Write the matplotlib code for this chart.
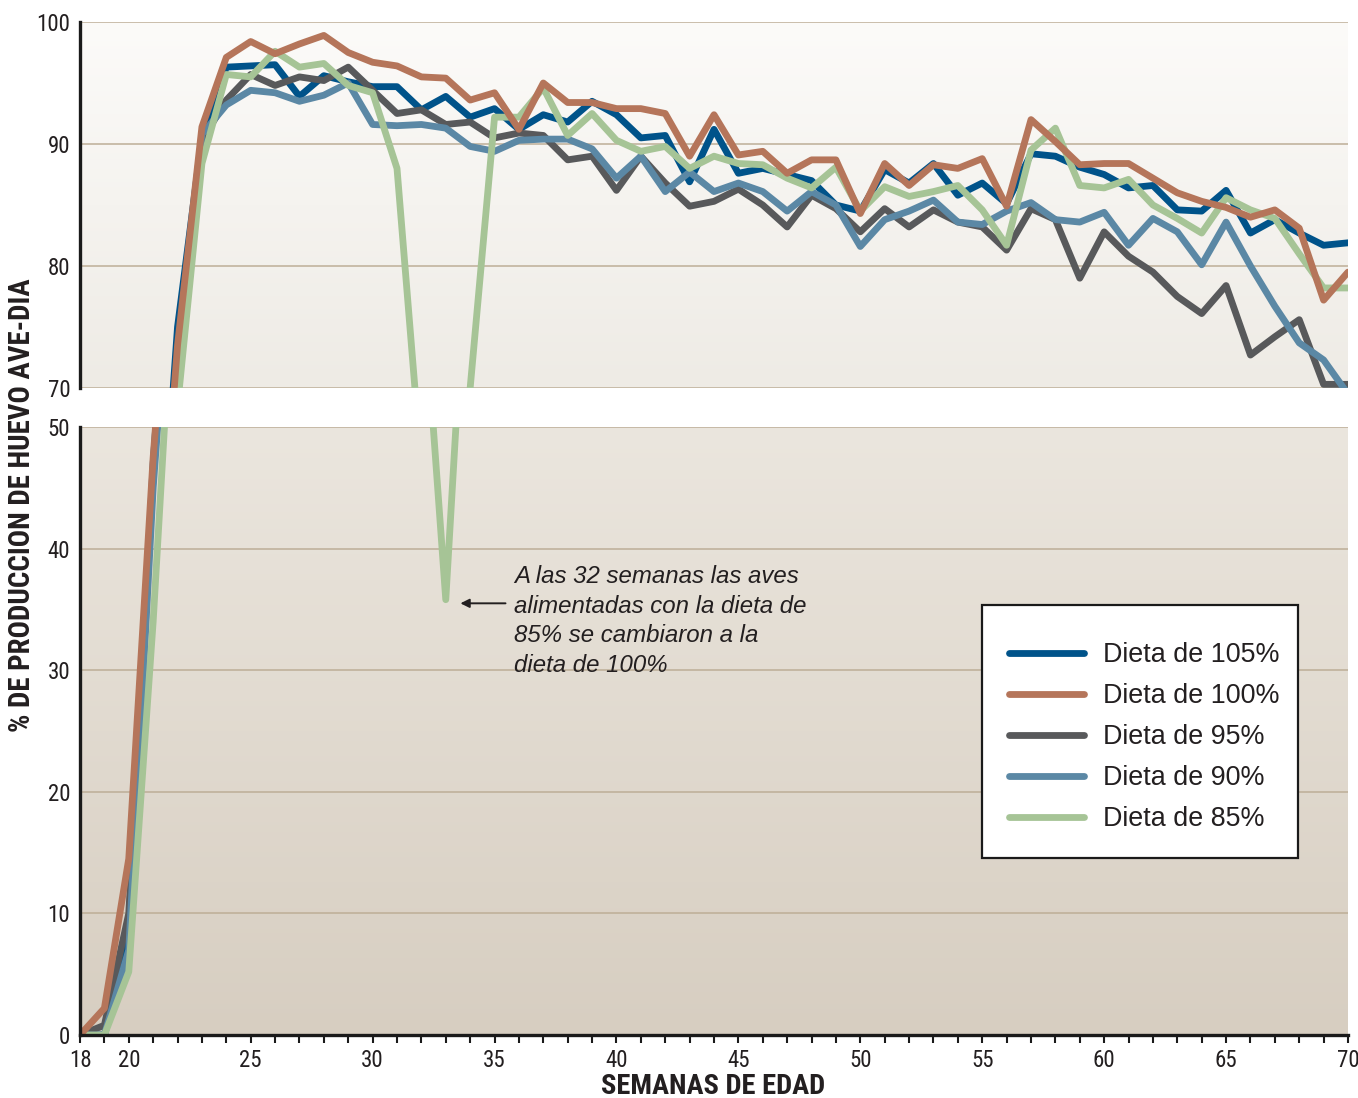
import numpy as np
import matplotlib
matplotlib.use("Agg")
import matplotlib.pyplot as plt
from matplotlib import font_manager as fm
from matplotlib.colors import LinearSegmentedColormap
from matplotlib.patches import Rectangle

# ---------------- data ----------------
weeks = list(range(18, 71))

dieta_105 = [0, 0, 8, 47, 75, 90.5, 96.3, 96.4, 96.5, 93.9, 95.6, 95.1, 94.7, 94.7, 92.8,
             93.9, 92.2, 92.9, 91.2, 92.4, 91.8, 93.5, 92.4, 90.5, 90.7, 86.9, 91.2, 87.6,
             88.0, 87.5, 87.0, 85.0, 84.5, 87.9, 86.8, 88.4, 85.8, 86.8, 85.1, 89.2, 89.0,
             88.1, 87.5, 86.4, 86.6, 84.6, 84.5, 86.2, 82.7, 83.8, 82.7, 81.7, 81.9]

dieta_100 = [0, 2.2, 14.5, 47.5, 73.5, 91.4, 97.1, 98.4, 97.4, 98.2, 98.9, 97.5, 96.7, 96.4,
             95.5, 95.4, 93.6, 94.2, 91.2, 95.0, 93.4, 93.4, 92.9, 92.9, 92.5, 89.0, 92.4,
             89.1, 89.4, 87.6, 88.7, 88.7, 84.3, 88.4, 86.6, 88.3, 88.0, 88.8, 84.9, 92.0,
             90.2, 88.3, 88.4, 88.4, 87.2, 86.0, 85.3, 84.8, 84.0, 84.6, 83.1, 77.2, 79.5]

dieta_95 = [0, 0.8, 10, 46, 72, 90.3, 93.6, 95.7, 94.8, 95.5, 95.2, 96.3, 94.4, 92.5, 92.8,
            91.6, 91.8, 90.5, 90.9, 90.7, 88.7, 89.0, 86.2, 89.0, 86.8, 84.9, 85.3, 86.3,
            85.0, 83.2, 85.8, 84.7, 82.8, 84.7, 83.2, 84.6, 83.6, 83.2, 81.3, 84.7, 83.8,
            79.0, 82.8, 80.8, 79.5, 77.5, 76.1, 78.4, 72.7, 74.2, 75.6, 70.3, 70.3]

dieta_90 = [0, 0, 7, 45, 72, 90.8, 93.2, 94.4, 94.2, 93.5, 94.0, 95.0, 91.6, 91.5, 91.6,
            91.3, 89.8, 89.4, 90.3, 90.4, 90.4, 89.6, 87.2, 89.0, 86.1, 87.7, 86.1, 86.8,
            86.1, 84.5, 86.1, 85.0, 81.6, 83.8, 84.5, 85.4, 83.6, 83.4, 84.5, 85.2, 83.8,
            83.6, 84.4, 81.7, 83.9, 82.8, 80.1, 83.6, 80.0, 76.7, 73.7, 72.3, 69.5]

dieta_85 = [0, 0, 5.2, 34, 68.5, 88.4, 95.7, 95.5, 97.6, 96.3, 96.6, 94.8, 94.2, 88.0, 63.5,
            35.8, 70.0, 92.2, 92.2, 94.6, 90.7, 92.5, 90.3, 89.4, 89.8, 88.0, 89.0, 88.4,
            88.3, 87.2, 86.4, 88.1, 84.5, 86.5, 85.7, 86.1, 86.6, 84.6, 81.7, 89.5, 91.3,
            86.6, 86.4, 87.1, 85.0, 83.9, 82.7, 85.6, 84.6, 83.9, 81.0, 78.2, 78.2]

series_labels = ["Dieta de 105%", "Dieta de 100%", "Dieta de 95%", "Dieta de 90%", "Dieta de 85%"]
series_colors = ["#00538A", "#B5755A", "#58595B", "#5B88A5", "#A6C496"]
series_z = [3, 7, 4, 5, 6]

x_labeled = [18, 20, 25, 30, 35, 40, 45, 50, 55, 60, 65, 70]
top_yticks = [70, 80, 90, 100]
bottom_yticks = [0, 10, 20, 30, 40, 50]

annotation_text = ("A las 32 semanas las aves\nalimentadas con la dieta de\n"
                   "85% se cambiaron a la\ndieta de 100%")
xlabel = "SEMANAS DE EDAD"
ylabel = "% DE PRODUCCION DE HUEVO AVE-DIA"

# ---------------- fonts ----------------
names = {f.name for f in fm.fontManager.ttflist}


def pick(cands, default):
    for c in cands:
        if c in names:
            return c
    return default


cond_family = pick(["Liberation Sans Narrow", "Roboto Condensed", "Open Sans Condensed"], None)
cond_kw = {"family": cond_family} if cond_family else {"family": "DejaVu Sans", "stretch": "condensed"}
sans = pick(["Liberation Sans", "Arial", "Helvetica"], "DejaVu Sans")

TXT = "#231F20"

# ---------------- figure ----------------
W, H = 1358, 1098
fig = plt.figure(figsize=(W / 100, H / 100), dpi=100)
fig.patch.set_facecolor("white")

L, R = 80, 1348
ax_top = fig.add_axes([L / W, 1 - 388 / H, (R - L) / W, (388 - 22) / H])
ax_bot = fig.add_axes([L / W, 1 - 1035 / H, (R - L) / W, (1035 - 427) / H])


def gradient(ax, c_top, c_bottom, ylo, yhi):
    cmap = LinearSegmentedColormap.from_list("g", [c_bottom, c_top])
    g = np.linspace(0, 1, 256).reshape(-1, 1)
    ax.imshow(g, cmap=cmap, origin="lower", aspect="auto",
              extent=[18, 70, ylo, yhi], zorder=0, interpolation="bicubic")


gradient(ax_top, "#FCFBF9", "#EEEBE5", 70, 100)
gradient(ax_bot, "#EBE6DE", "#D7CEC1", 0, 50)

all_series = [dieta_105, dieta_100, dieta_95, dieta_90, dieta_85]
handles = []
for ax in (ax_top, ax_bot):
    for vals, lab, col, z in zip(all_series, series_labels, series_colors, series_z):
        ln, = ax.plot(weeks, vals, color=col, lw=4.9, label=lab, zorder=z,
                      solid_joinstyle="round", solid_capstyle="round")
        if ax is ax_bot:
            handles.append(ln)

ax_top.set_xlim(18, 70)
ax_bot.set_xlim(18, 70)
ax_top.set_ylim(70, 100)
ax_bot.set_ylim(0, 50)

GRID = "#BDAE97"
for ax, yt in ((ax_top, top_yticks), (ax_bot, bottom_yticks)):
    ax.set_yticks(yt)
    ax.set_yticklabels([str(v) for v in yt], fontsize=16.5, color=TXT, **cond_kw)
    ax.tick_params(axis="y", length=0, pad=7)
    ax.yaxis.grid(True, color=GRID, lw=1.1, zorder=1)
    ax.set_axisbelow(True)
    for s in ("top", "right", "bottom"):
        ax.spines[s].set_visible(False)
    ax.spines["left"].set_color("#1A1A1A")
    ax.spines["left"].set_linewidth(2.4)
    ax.spines["left"].set_zorder(10)

ax_top.set_xticks([])
ax_bot.spines["bottom"].set_visible(True)
ax_bot.spines["bottom"].set_color("#1A1A1A")
ax_bot.spines["bottom"].set_linewidth(2.4)
ax_bot.spines["bottom"].set_zorder(10)
ax_bot.set_xticks(weeks)
ax_bot.set_xticklabels([str(w) if w in x_labeled else "" for w in weeks],
                       fontsize=16.5, color=TXT, **cond_kw)
ax_bot.tick_params(axis="x", direction="out", length=6, width=1.5, color="#1A1A1A", pad=4)

# axis titles
fig.text(713 / W, 1 - 1087 / H, xlabel, ha="center", va="center", fontsize=20.5,
         fontweight="bold", color=TXT, **cond_kw)
fig.text(22 / W, 1 - 505 / H, ylabel, ha="center", va="center", rotation=90,
         fontsize=20.8, fontweight="bold", color=TXT, **cond_kw)

# annotation
ax_bot.annotate("", xy=(33.6, 35.5), xytext=(35.45, 35.5),
                arrowprops=dict(arrowstyle="-|>", color=TXT, lw=1.4, mutation_scale=13,
                                shrinkA=0, shrinkB=0), zorder=8)
ax_bot.text(35.8, 38.65, annotation_text, ha="left", va="top", fontsize=17.3,
            style="italic", family=sans, color=TXT, linespacing=1.37, zorder=8)

# legend with drawn frame
bx0, bx1, by0, by1 = 982, 1298, 605, 858
ax_bot.add_patch(Rectangle(((bx0 - L) / (R - L), (1035 - by1) / 608),
                           (bx1 - bx0) / (R - L), (by1 - by0) / 608,
                           transform=ax_bot.transAxes, facecolor="white",
                           edgecolor="#1A1A1A", lw=1.6, zorder=9))
leg = ax_bot.legend(handles, series_labels, loc="upper left",
                    bbox_to_anchor=((1009 - L) / (R - L), (1035 - 642) / 608),
                    frameon=False, prop={"family": sans, "size": 19.4},
                    handlelength=2.78, handletextpad=0.72, labelspacing=0.56,
                    borderpad=0, borderaxespad=0)
for t in leg.get_texts():
    t.set_color(TXT)
for lh in leg.get_lines():
    lh.set_solid_capstyle("round")
leg.set_zorder(11)

fig.savefig("out.png", dpi=100, facecolor="white")
